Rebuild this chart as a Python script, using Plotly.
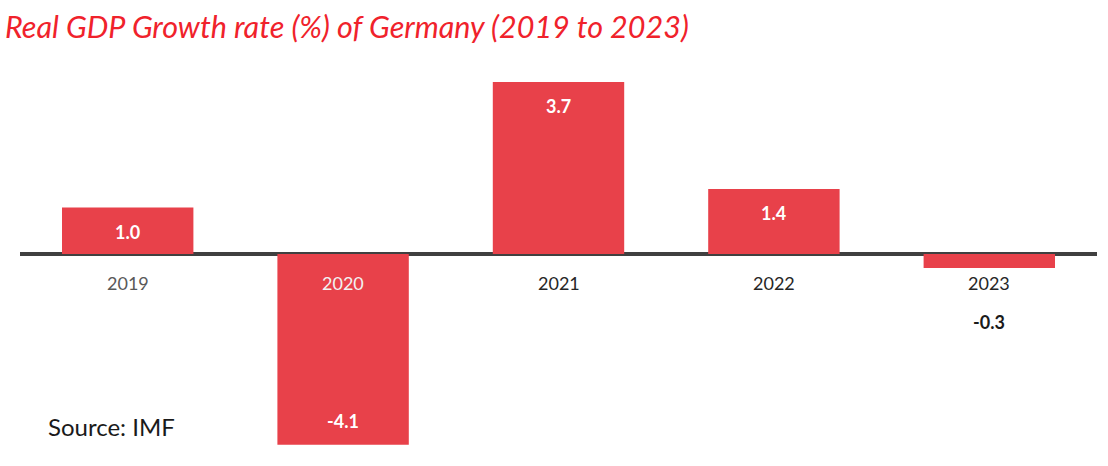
import plotly.graph_objects as go

years = ["2019", "2020", "2021", "2022", "2023"]
growth = [1.0, -4.1, 3.7, 1.4, -0.3]
tick_colors = ["#595959", "#F2F2F2", "#262626", "#262626", "#262626"]

BAR = "#E8414A"
FONT = "Lato"

fig = go.Figure()
fig.add_trace(go.Bar(
    x=years, y=growth,
    marker=dict(color=BAR, line=dict(width=0)),
    hoverinfo="skip",
))

annotations = []
for i, (yr, v, c) in enumerate(zip(years, growth, tick_colors)):
    annotations.append(dict(
        x=i, y=0, xref="x", yref="y", text=yr, showarrow=False,
        yanchor="middle", yshift=-29, font=dict(family=FONT, size=18, color=c),
    ))
    if abs(v) >= 0.8:
        shift = -24 if v > 0 else 24
        annotations.append(dict(
            x=i, y=v, xref="x", yref="y", text="<b>%.1f</b>" % v, showarrow=False,
            yanchor="middle", yshift=shift, font=dict(family=FONT, size=18, color="white"),
        ))
    else:
        annotations.append(dict(
            x=i, y=0, xref="x", yref="y", text="<b>%.1f</b>" % v, showarrow=False,
            yanchor="middle", yshift=-68, font=dict(family=FONT, size=18, color="#1a1a1a"),
        ))

annotations.append(dict(
    x=(46 - 20) / 1077, y=1 - (426 - 60) / 390, xref="paper", yref="paper",
    text="Source: IMF", showarrow=False, xanchor="left", yanchor="middle",
    font=dict(family=FONT, size=24, color="#1a1a1a"),
))

fig.update_layout(
    width=1108, height=466,
    margin=dict(l=20, r=11, t=60, b=16),
    paper_bgcolor="white", plot_bgcolor="white",
    bargap=0.39,
    showlegend=False,
    title=dict(
        text="<i>Real GDP Growth rate (%) of Germany (2019 to 2023)</i>",
        xref="container", yref="container", x=5 / 1108, xanchor="left",
        y=1 - 27 / 466, yanchor="middle",
        font=dict(family=FONT, size=30.5, color="#F0222B"),
    ),
    xaxis=dict(type="category", range=[-0.5, len(years) - 0.5], showticklabels=False,
               showgrid=False, zeroline=False, showline=False, ticks=""),
    yaxis=dict(range=[-(450 - 254) / 46.5, (254 - 60) / 46.5], showticklabels=False,
               showgrid=False, zeroline=True, zerolinecolor="#404040", zerolinewidth=4,
               showline=False, ticks=""),
    annotations=annotations,
)

fig.write_html("out.html", config={"displayModeBar": False},
               post_script="document.body.style.margin='0';")
